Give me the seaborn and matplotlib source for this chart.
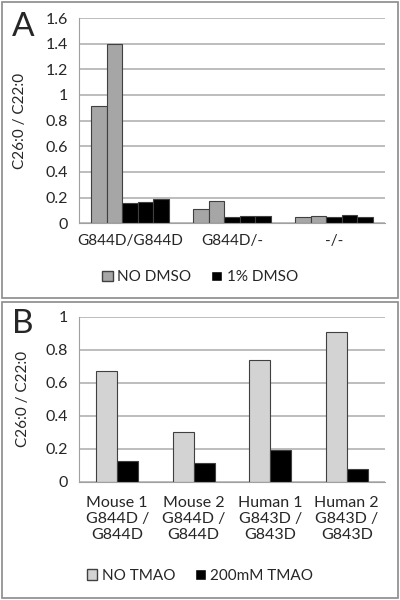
import pandas as pd
import matplotlib.pyplot as plt
import matplotlib.patches as mpatches
import seaborn as sns

# panel A
genotypes_a = ['G844D/G844D', 'G844D/-', '-/-']
no_dmso = [[0.91, 1.40], [0.11, 0.17], [0.05, 0.06]]
dmso_1pct = [[0.155, 0.165, 0.19], [0.05, 0.06, 0.055], [0.05, 0.065, 0.05]]

# panel B
samples_b = ['Mouse 1\nG844D /\nG844D', 'Mouse 2\nG844D /\nG844D',
             'Human 1\nG843D /\nG843D', 'Human 2\nG843D /\nG843D']
no_tmao = [0.67, 0.30, 0.74, 0.91]
tmao_200 = [0.125, 0.115, 0.19, 0.075]

sns.set_style('white')
plt.rcParams['font.family'] = ['Lato', 'DejaVu Sans']

GRAY_A = '#a6a6a6'
GRAY_B = '#d3d3d3'
GRID = '#b8b8b8'
FS = 11

rows = []
for g, a, b in zip(genotypes_a, no_dmso, dmso_1pct):
    for i, v in enumerate(a):
        rows.append({'genotype': g, 'bar': f'no{i}', 'value': v})
    for i, v in enumerate(b):
        rows.append({'genotype': g, 'bar': f'd{i}', 'value': v})
df_a = pd.DataFrame(rows)

rows = []
for s, a, b in zip(samples_b, no_tmao, tmao_200):
    rows.append({'sample': s, 'cond': 'NO TMAO', 'value': a})
    rows.append({'sample': s, 'cond': '200mM TMAO', 'value': b})
df_b = pd.DataFrame(rows)

fig = plt.figure(figsize=(4, 6), dpi=100)

# panel borders
for y0 in (0.503, 0.003):
    fig.patches.append(mpatches.Rectangle((0.006, y0), 0.988, 0.494, transform=fig.transFigure,
                                          fill=False, edgecolor='#8a8a8a', lw=1.2))


def style_axis(ax, n, ymax, step):
    ax.set_xlim(-0.5, n - 0.5)
    ax.set_ylim(0, ymax)
    ticks = [round(i * step, 2) for i in range(int(round(ymax / step)) + 1)]
    ax.set_yticks(ticks)
    ax.set_yticklabels([('%g' % t) for t in ticks], fontsize=FS + 0.5)
    ax.yaxis.grid(True, color=GRID, lw=1.3)
    ax.set_axisbelow(True)
    for s in ('top', 'right'):
        ax.spines[s].set_visible(False)
    for s in ('left', 'bottom'):
        ax.spines[s].set_color('#a0a0a0')
    ax.set_xticks([i - 0.5 for i in range(n + 1)], minor=True)
    ax.tick_params(axis='x', which='minor', length=5, color='#a0a0a0', direction='out')
    ax.tick_params(axis='x', which='major', length=0, labelsize=FS, pad=8)
    ax.tick_params(axis='y', length=4, color=GRID, direction='out', pad=4)
    ax.set_xlabel('')
    ax.set_ylabel('C26:0 / C22:0', fontsize=11)


# ---- panel A ----
ax1 = fig.add_axes([0.1975, 0.628, 0.765, 0.342])
pal_a = {'no0': GRAY_A, 'no1': GRAY_A, 'd0': 'black', 'd1': 'black', 'd2': 'black'}
sns.barplot(data=df_a, x='genotype', y='value', hue='bar', palette=pal_a, width=0.76,
            edgecolor='#404040', linewidth=0.8, legend=False, ax=ax1)
style_axis(ax1, 3, 1.6, 0.2)
ax1.yaxis.set_label_coords(-0.17, 0.5)
handles = [mpatches.Patch(facecolor=GRAY_A, edgecolor='#404040', label='NO DMSO'),
           mpatches.Patch(facecolor='black', label='1% DMSO')]
fig.legend(handles=handles, loc='center', bbox_to_anchor=(0.5, 0.538), ncol=2, frameon=False,
           fontsize=FS, handlelength=0.7, handleheight=0.7, handletextpad=0.3, columnspacing=1.3)
fig.text(0.03, 0.955, 'A', fontsize=24, va='center')

# ---- panel B ----
ax2 = fig.add_axes([0.1975, 0.197, 0.765, 0.275])
sns.barplot(data=df_b, x='sample', y='value', hue='cond',
            palette={'NO TMAO': GRAY_B, '200mM TMAO': 'black'}, width=0.55,
            edgecolor='#404040', linewidth=0.8, legend=False, ax=ax2)
style_axis(ax2, 4, 1.0, 0.2)
ax2.yaxis.set_label_coords(-0.16, 0.5)
ax2.tick_params(axis='x', which='major', labelsize=FS + 0.5, pad=10)
handles = [mpatches.Patch(facecolor=GRAY_B, edgecolor='#404040', label='NO TMAO'),
           mpatches.Patch(facecolor='black', label='200mM TMAO')]
fig.legend(handles=handles, loc='center', bbox_to_anchor=(0.5, 0.04), ncol=2, frameon=False,
           fontsize=FS, handlelength=0.7, handleheight=0.7, handletextpad=0.3, columnspacing=1.3)
fig.text(0.03, 0.46, 'B', fontsize=24, va='center')

fig.savefig('out.png', dpi=100)
